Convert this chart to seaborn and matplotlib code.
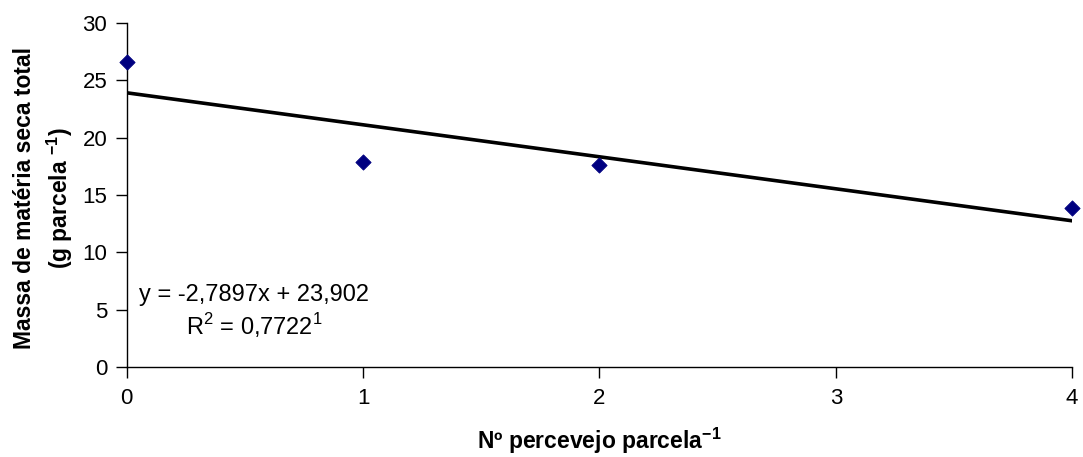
import numpy as np
import pandas as pd
import matplotlib
matplotlib.use("Agg")
import matplotlib.pyplot as plt
import seaborn as sns

# dados
percevejos = [0, 1, 2, 4]
massa_seca = [26.6, 17.9, 17.6, 13.9]
slope = -2.7897
intercept = 23.902
y_ticks = [0, 5, 10, 15, 20, 25, 30]
x_ticks = [0, 1, 2, 3, 4]

sns.set_style("white")
plt.rcParams['font.family'] = ['Liberation Sans', 'DejaVu Sans']
plt.rcParams['mathtext.fontset'] = 'custom'
plt.rcParams['mathtext.rm'] = 'Liberation Sans'
plt.rcParams['mathtext.bf'] = 'Liberation Sans:bold'
plt.rcParams['text.color'] = 'black'
plt.rcParams['axes.labelcolor'] = 'black'
plt.rcParams['xtick.color'] = 'black'
plt.rcParams['ytick.color'] = 'black'

df = pd.DataFrame({'x': percevejos, 'y': massa_seca})
x_fit = np.array([min(percevejos), max(percevejos)])
df_fit = pd.DataFrame({'x': x_fit, 'y': slope * x_fit + intercept})

fig, ax = plt.subplots(figsize=(10.83, 4.57), dpi=100)
fig.subplots_adjust(left=0.117, right=0.99, top=0.95, bottom=0.197)

sns.lineplot(data=df_fit, x='x', y='y', color='black', linewidth=2.6, ax=ax)
sns.scatterplot(data=df, x='x', y='y', marker='D', s=60, color='#000080',
                edgecolor='#000080', zorder=3, ax=ax, clip_on=False)

ax.set_xlim(0, 4)
ax.set_ylim(0, 30)
ax.set_xticks(x_ticks)
ax.set_yticks(y_ticks)
ax.tick_params(axis='both', labelsize=16, direction='out', length=8, width=1,
               left=True, bottom=True)
ax.tick_params(axis='y', pad=6)
ax.tick_params(axis='x', pad=7)

for s in ['top', 'right']:
    ax.spines[s].set_visible(False)
for s in ['left', 'bottom']:
    ax.spines[s].set_color('black')
    ax.spines[s].set_linewidth(1)

ax.set_xlabel(r'Nº percevejo parcela$^{\mathbf{-1}}$', fontsize=16.5, fontweight='bold')
ax.set_ylabel('Massa de matéria seca total\n' + r'(g parcela $^{\mathbf{-1}}$)', fontsize=16.5,
              fontweight='bold', linespacing=1.4)

# posição dos rótulos (em coordenadas do eixo)
ax.yaxis.set_label_coords(-0.0875, 0.49)
ax.yaxis.label.set_va('center')
ax.xaxis.set_label_coords(0.5, -0.215)
ax.xaxis.label.set_va('center')

ax.text(0.54, 6.3, 'y = -2,7897x + 23,902', fontsize=17, ha='center', va='center')
ax.text(0.54, 3.6, r'R$^{2}$ = 0,7722$^{1}$', fontsize=17, ha='center', va='center')

plt.savefig('out.png', dpi=100, facecolor='white')
